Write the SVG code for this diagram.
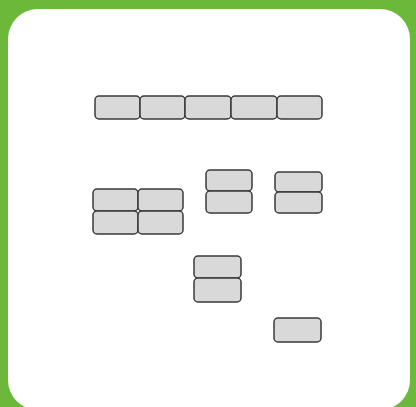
<svg xmlns="http://www.w3.org/2000/svg" width="416" height="407" viewBox="0 0 416 407">
<style>
.b{fill:#d9d9d9;stroke:#3a3a3a;stroke-width:1.5}
</style>
<rect x="0" y="0" width="416" height="407" fill="#6cb83a"/>
<rect x="8" y="9" width="402" height="401" rx="30" fill="#ffffff"/>
<g id="row1">
<rect class="b" x="95" y="96" width="45" height="23" rx="4"/>
<rect class="b" x="140" y="96" width="45" height="23" rx="4"/>
<rect class="b" x="185" y="96" width="46" height="23" rx="4"/>
<rect class="b" x="231" y="96" width="46" height="23" rx="4"/>
<rect class="b" x="277" y="96" width="45" height="23" rx="4"/>
</g>
<g id="block4">
<rect class="b" x="93" y="189" width="45" height="22" rx="4"/>
<rect class="b" x="138" y="189" width="45" height="22" rx="4"/>
<rect class="b" x="93" y="211" width="45" height="23" rx="4"/>
<rect class="b" x="138" y="211" width="45" height="23" rx="4"/>
</g>
<g id="pairA">
<rect class="b" x="206" y="170" width="46" height="21" rx="4"/>
<rect class="b" x="206" y="191" width="46" height="22" rx="4"/>
</g>
<g id="pairB">
<rect class="b" x="275" y="172" width="47" height="20" rx="4"/>
<rect class="b" x="275" y="192" width="47" height="21" rx="4"/>
</g>
<g id="pairC">
<rect class="b" x="194" y="256" width="47" height="22" rx="4"/>
<rect class="b" x="194" y="278" width="47" height="24" rx="4"/>
</g>
<g id="single">
<rect class="b" x="274" y="318" width="47" height="24" rx="4"/>
</g>
<g id="connectors"/>
</svg>
